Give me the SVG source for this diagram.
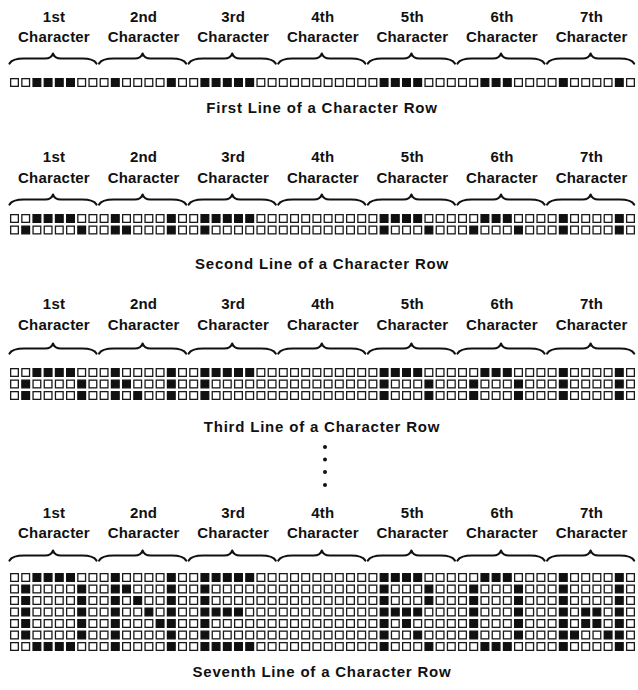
<svg xmlns="http://www.w3.org/2000/svg" xmlns:xlink="http://www.w3.org/1999/xlink" width="638" height="690" viewBox="0 0 638 690">
<style>
.c0{fill:#fff;stroke:#1a1a1a;stroke-width:1.3}
.c1{fill:#111;stroke:#111;stroke-width:1.3}
.brace{fill:none;stroke:#111;stroke-width:2.2;stroke-linecap:round;stroke-linejoin:round}
.lab{font-family:"Liberation Sans",Arial,sans-serif;font-weight:bold;font-size:15px;fill:#111;text-anchor:middle;letter-spacing:0.2px}
.cap{font-family:"Liberation Sans",Arial,sans-serif;font-weight:bold;font-size:15px;fill:#111;text-anchor:middle;letter-spacing:0.8px}
</style>
<defs>
<rect id="c0" class="c0" x="0.65" y="0.65" width="7.7" height="7.7"/>
<rect id="c1" class="c1" x="0.65" y="0.65" width="7.7" height="7.7"/>
<path id="br" class="brace" d="M0.5,10.5 C2.5,7 7,5.5 15,5.5 L36,5.5 C40.5,5.5 43,4 44,0.5 C45,4 47.5,5.5 52,5.5 L73,5.5 C81,5.5 85.5,7 87.5,10.5"/>
<g id="p00111100"><use href="#c0" x="0"/><use href="#c0" x="11.2"/><use href="#c1" x="22.4"/><use href="#c1" x="33.6"/><use href="#c1" x="44.8"/><use href="#c1" x="56"/><use href="#c0" x="67.2"/><use href="#c0" x="78.4"/></g>
<g id="p01000010"><use href="#c0" x="0"/><use href="#c1" x="11.2"/><use href="#c0" x="22.4"/><use href="#c0" x="33.6"/><use href="#c0" x="44.8"/><use href="#c0" x="56"/><use href="#c1" x="67.2"/><use href="#c0" x="78.4"/></g>
<g id="p01100010"><use href="#c0" x="0"/><use href="#c1" x="11.2"/><use href="#c1" x="22.4"/><use href="#c0" x="33.6"/><use href="#c0" x="44.8"/><use href="#c0" x="56"/><use href="#c1" x="67.2"/><use href="#c0" x="78.4"/></g>
<g id="p01010010"><use href="#c0" x="0"/><use href="#c1" x="11.2"/><use href="#c0" x="22.4"/><use href="#c1" x="33.6"/><use href="#c0" x="44.8"/><use href="#c0" x="56"/><use href="#c1" x="67.2"/><use href="#c0" x="78.4"/></g>
<g id="p01001010"><use href="#c0" x="0"/><use href="#c1" x="11.2"/><use href="#c0" x="22.4"/><use href="#c0" x="33.6"/><use href="#c1" x="44.8"/><use href="#c0" x="56"/><use href="#c1" x="67.2"/><use href="#c0" x="78.4"/></g>
<g id="p01000110"><use href="#c0" x="0"/><use href="#c1" x="11.2"/><use href="#c0" x="22.4"/><use href="#c0" x="33.6"/><use href="#c0" x="44.8"/><use href="#c1" x="56"/><use href="#c1" x="67.2"/><use href="#c0" x="78.4"/></g>
<g id="p01111100"><use href="#c0" x="0"/><use href="#c1" x="11.2"/><use href="#c1" x="22.4"/><use href="#c1" x="33.6"/><use href="#c1" x="44.8"/><use href="#c1" x="56"/><use href="#c0" x="67.2"/><use href="#c0" x="78.4"/></g>
<g id="p01000000"><use href="#c0" x="0"/><use href="#c1" x="11.2"/><use href="#c0" x="22.4"/><use href="#c0" x="33.6"/><use href="#c0" x="44.8"/><use href="#c0" x="56"/><use href="#c0" x="67.2"/><use href="#c0" x="78.4"/></g>
<g id="p01111000"><use href="#c0" x="0"/><use href="#c1" x="11.2"/><use href="#c1" x="22.4"/><use href="#c1" x="33.6"/><use href="#c1" x="44.8"/><use href="#c0" x="56"/><use href="#c0" x="67.2"/><use href="#c0" x="78.4"/></g>
<g id="p00000000"><use href="#c0" x="0"/><use href="#c0" x="11.2"/><use href="#c0" x="22.4"/><use href="#c0" x="33.6"/><use href="#c0" x="44.8"/><use href="#c0" x="56"/><use href="#c0" x="67.2"/><use href="#c0" x="78.4"/></g>
<g id="p01000100"><use href="#c0" x="0"/><use href="#c1" x="11.2"/><use href="#c0" x="22.4"/><use href="#c0" x="33.6"/><use href="#c0" x="44.8"/><use href="#c1" x="56"/><use href="#c0" x="67.2"/><use href="#c0" x="78.4"/></g>
<g id="p01010000"><use href="#c0" x="0"/><use href="#c1" x="11.2"/><use href="#c0" x="22.4"/><use href="#c1" x="33.6"/><use href="#c0" x="44.8"/><use href="#c0" x="56"/><use href="#c0" x="67.2"/><use href="#c0" x="78.4"/></g>
<g id="p01001000"><use href="#c0" x="0"/><use href="#c1" x="11.2"/><use href="#c0" x="22.4"/><use href="#c0" x="33.6"/><use href="#c1" x="44.8"/><use href="#c0" x="56"/><use href="#c0" x="67.2"/><use href="#c0" x="78.4"/></g>
<g id="p00111000"><use href="#c0" x="0"/><use href="#c0" x="11.2"/><use href="#c1" x="22.4"/><use href="#c1" x="33.6"/><use href="#c1" x="44.8"/><use href="#c0" x="56"/><use href="#c0" x="67.2"/><use href="#c0" x="78.4"/></g>
<g id="p01011010"><use href="#c0" x="0"/><use href="#c1" x="11.2"/><use href="#c0" x="22.4"/><use href="#c1" x="33.6"/><use href="#c1" x="44.8"/><use href="#c0" x="56"/><use href="#c1" x="67.2"/><use href="#c0" x="78.4"/></g>
<g id="p01100110"><use href="#c0" x="0"/><use href="#c1" x="11.2"/><use href="#c1" x="22.4"/><use href="#c0" x="33.6"/><use href="#c0" x="44.8"/><use href="#c1" x="56"/><use href="#c1" x="67.2"/><use href="#c0" x="78.4"/></g>
<g id="L1"><use href="#p00111100" x="10"/><use href="#p01000010" x="99.6"/><use href="#p01111100" x="189.2"/><use href="#p00000000" x="278.8"/><use href="#p01111000" x="368.4"/><use href="#p00111000" x="458"/><use href="#p01000010" x="547.6"/></g>
<g id="L2"><use href="#p01000010" x="10"/><use href="#p01100010" x="99.6"/><use href="#p01000000" x="189.2"/><use href="#p00000000" x="278.8"/><use href="#p01000100" x="368.4"/><use href="#p01000100" x="458"/><use href="#p01000010" x="547.6"/></g>
<g id="L3"><use href="#p01000010" x="10"/><use href="#p01010010" x="99.6"/><use href="#p01000000" x="189.2"/><use href="#p00000000" x="278.8"/><use href="#p01000100" x="368.4"/><use href="#p01000100" x="458"/><use href="#p01000010" x="547.6"/></g>
<g id="L4"><use href="#p01000010" x="10"/><use href="#p01001010" x="99.6"/><use href="#p01111000" x="189.2"/><use href="#p00000000" x="278.8"/><use href="#p01111000" x="368.4"/><use href="#p01000100" x="458"/><use href="#p01011010" x="547.6"/></g>
<g id="L5"><use href="#p01000010" x="10"/><use href="#p01000110" x="99.6"/><use href="#p01000000" x="189.2"/><use href="#p00000000" x="278.8"/><use href="#p01010000" x="368.4"/><use href="#p01000100" x="458"/><use href="#p01011010" x="547.6"/></g>
<g id="L6"><use href="#p01000010" x="10"/><use href="#p01000010" x="99.6"/><use href="#p01000000" x="189.2"/><use href="#p00000000" x="278.8"/><use href="#p01001000" x="368.4"/><use href="#p01000100" x="458"/><use href="#p01100110" x="547.6"/></g>
<g id="L7"><use href="#p00111100" x="10"/><use href="#p01000010" x="99.6"/><use href="#p01111100" x="189.2"/><use href="#p00000000" x="278.8"/><use href="#p01000100" x="368.4"/><use href="#p00111000" x="458"/><use href="#p01000010" x="547.6"/></g>
<g id="braces"><use href="#br" x="9"/><use href="#br" x="98.6"/><use href="#br" x="188.2"/><use href="#br" x="277.8"/><use href="#br" x="367.4"/><use href="#br" x="457"/><use href="#br" x="546.6"/></g>
<g id="labels" class="lab">
<text x="54" y="0">1st</text><text x="143.6" y="0">2nd</text><text x="233.2" y="0">3rd</text><text x="322.8" y="0">4th</text><text x="412.4" y="0">5th</text><text x="502" y="0">6th</text><text x="591.6" y="0">7th</text>
<text x="54" y="20.5">Character</text><text x="143.6" y="20.5">Character</text><text x="233.2" y="20.5">Character</text><text x="322.8" y="20.5">Character</text><text x="412.4" y="20.5">Character</text><text x="502" y="20.5">Character</text><text x="591.6" y="20.5">Character</text>
</g>
</defs>
<rect width="638" height="690" fill="#fff"/>

<g id="section-first">
<use href="#labels" y="21.5"/>
<use href="#braces" y="53"/>
<use href="#L1" y="78"/>
<text class="cap" x="322" y="113">First Line of a Character Row</text>
</g>

<g id="section-second">
<use href="#labels" y="162"/>
<use href="#braces" y="194"/>
<use href="#L1" y="214"/>
<use href="#L2" y="225.5"/>
<text class="cap" x="322" y="269">Second Line of a Character Row</text>
</g>

<g id="section-third">
<use href="#labels" y="309"/>
<use href="#braces" y="343"/>
<use href="#L1" y="368"/>
<use href="#L2" y="379.5"/>
<use href="#L3" y="391"/>
<text class="cap" x="322" y="432">Third Line of a Character Row</text>
</g>

<g id="ellipsis" fill="#111">
<circle cx="325" cy="447" r="2"/>
<circle cx="325" cy="459.5" r="2"/>
<circle cx="325" cy="472" r="2"/>
<circle cx="325" cy="485" r="2"/>
</g>

<g id="section-seventh">
<use href="#labels" y="517.5"/>
<use href="#braces" y="550"/>
<use href="#L1" y="573"/>
<use href="#L2" y="584.5"/>
<use href="#L3" y="596"/>
<use href="#L4" y="607.5"/>
<use href="#L5" y="619"/>
<use href="#L6" y="630.5"/>
<use href="#L7" y="642"/>
<text class="cap" x="322" y="677">Seventh Line of a Character Row</text>
</g>
</svg>
